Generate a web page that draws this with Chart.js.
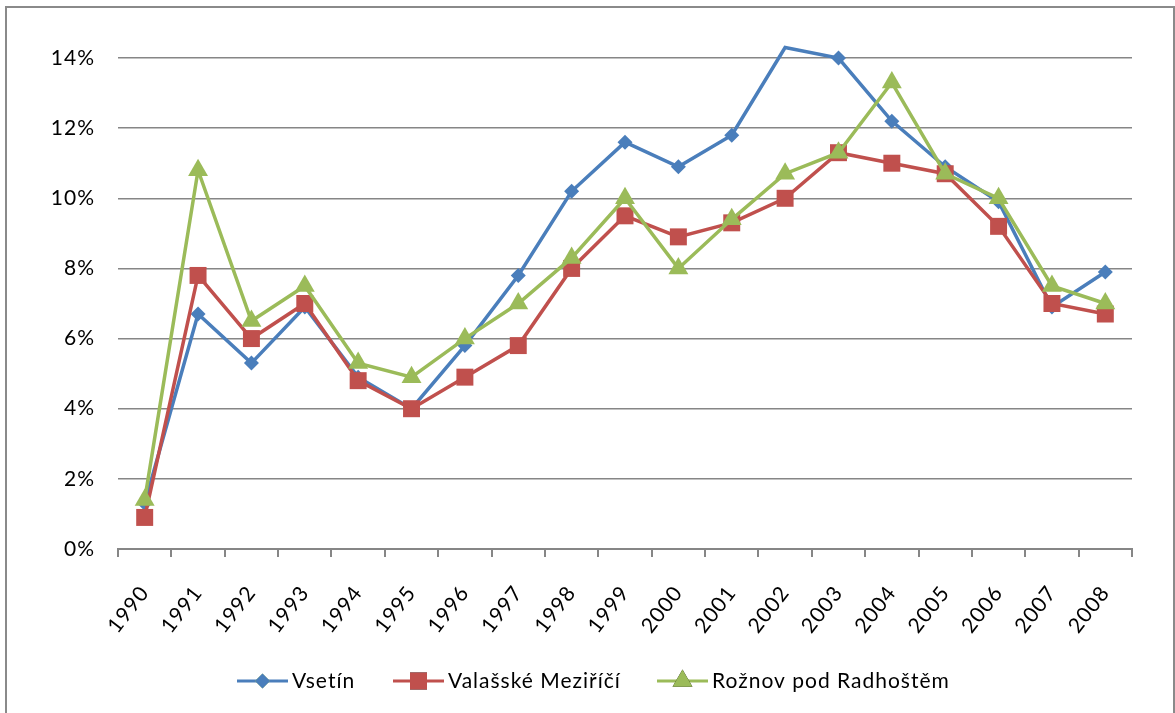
<!DOCTYPE html>
<html>
<head>
<meta charset="utf-8">
<script src="https://cdn.jsdelivr.net/npm/chart.js@4/dist/chart.umd.min.js"></script>
<style>
  html, body { margin: 0; padding: 0; background: #fff; }
  #wrap { position: absolute; left: 0; top: 0; width: 1175px; height: 713px; overflow: hidden; }
  #frame { position: absolute; left: 5px; top: 6px; width: 1166px; height: 760px; border: 2px solid #8a8a8a; }
  canvas { position: absolute; left: 0; top: 0; }
</style>
</head>
<body>
<div id="wrap">
  <div id="frame"></div>
  <canvas id="c" width="1175" height="713"></canvas>
</div>
<script>
const years = ['1990','1991','1992','1993','1994','1995','1996','1997','1998','1999','2000','2001','2002','2003','2004','2005','2006','2007','2008'];
const seriesNames = ['Vsetín', 'Valašské Meziříčí', 'Rožnov pod Radhoštěm'];
const vsetin    = [1.3, 6.7, 5.3, 6.9, 4.9, 4.0, 5.8, 7.8, 10.2, 11.6, 10.9, 11.8, 14.3, 14.0, 12.2, 10.9, 9.9, 6.9, 7.9];
const valasske  = [0.9, 7.8, 6.0, 7.0, 4.8, 4.0, 4.9, 5.8, 8.0, 9.5, 8.9, 9.3, 10.0, 11.3, 11.0, 10.7, 9.2, 7.0, 6.7];
const roznov    = [1.4, 10.8, 6.5, 7.5, 5.3, 4.9, 6.0, 7.0, 8.3, 10.0, 8.0, 9.4, 10.7, 11.3, 13.3, 10.7, 10.0, 7.5, 7.0];
const yTicks    = [0, 2, 4, 6, 8, 10, 12, 14];

const colors = ['#4A7EBB', '#C0504D', '#9BBB59'];
const styles = ['rectRot', 'rect', 'triangle'];
const radii  = [7.5, 12, 11.5];
const FONT = 'Lato, "Open Sans", sans-serif';

const spacingPlugin = {
  id: 'spacing',
  beforeInit(chart) { chart.ctx.letterSpacing = '1px'; },
  beforeUpdate(chart) { chart.ctx.letterSpacing = '1px'; },
  beforeDraw(chart) { chart.ctx.letterSpacing = '1px'; }
};

const legendPlugin = {
  id: 'excelLegend',
  afterDraw(chart) {
    const ctx = chart.ctx;
    const items = [
      { lineX: 237, textX: 292 },
      { lineX: 393, textX: 448 },
      { lineX: 657, textX: 712 }
    ];
    const y = 681;
    ctx.save();
    items.forEach((it, i) => {
      ctx.strokeStyle = colors[i];
      ctx.lineWidth = 3;
      ctx.beginPath();
      ctx.moveTo(it.lineX, y);
      ctx.lineTo(it.lineX + 51, y);
      ctx.stroke();
      Chart.helpers.drawPoint(ctx, {
        pointStyle: styles[i], radius: radii[i], rotation: 0, borderWidth: 0
      }, it.lineX + 25.5, y);
      ctx.fillStyle = colors[i];
      ctx.fill();
      ctx.fillStyle = '#000';
      ctx.font = '21px ' + FONT;
      ctx.letterSpacing = '1px';
      ctx.textBaseline = 'middle';
      ctx.textAlign = 'left';
      ctx.fillText(seriesNames[i], it.textX, y);
    });
    ctx.restore();
  }
};

const seriesData = [vsetin, valasske, roznov];
new Chart(document.getElementById('c'), {
  type: 'line',
  data: {
    labels: years,
    datasets: seriesData.map((d, i) => ({
      label: seriesNames[i],
      data: d,
      borderColor: colors[i],
      backgroundColor: colors[i],
      borderWidth: 3.5,
      pointStyle: styles[i],
      pointRadius: radii[i],
      pointBorderWidth: 0,
      pointBackgroundColor: colors[i],
      tension: 0,
      clip: false,
      order: 3 - i
    }))
  },
  options: {
    responsive: false,
    animation: false,
    events: [],
    layout: { padding: { top: 58, right: 43, left: 0, bottom: 0 } },
    plugins: { legend: { display: false }, tooltip: { enabled: false } },
    scales: {
      x: {
        offset: true,
        afterFit: (s) => { s.height = 164; },
        grid: { display: true, offset: true, drawOnChartArea: false, drawTicks: true, tickLength: 8, color: '#868686', lineWidth: 2 },
        border: { display: true, color: '#868686', width: 2 },
        ticks: { color: '#000', font: { family: FONT, size: 21 }, maxRotation: 52, minRotation: 52, padding: 24, autoSkip: false }
      },
      y: {
        min: 0, max: 14,
        afterFit: (s) => { s.width = 118; },
        afterBuildTicks: (s) => { s.ticks = yTicks.map(v => ({ value: v })); },
        grid: { color: '#868686', lineWidth: 1.5, drawTicks: false },
        border: { display: false },
        ticks: { color: '#000', font: { family: FONT, size: 21 }, padding: 23, callback: (v) => v + '%' }
      }
    }
  },
  plugins: [spacingPlugin, legendPlugin]
});
</script>
</body>
</html>
